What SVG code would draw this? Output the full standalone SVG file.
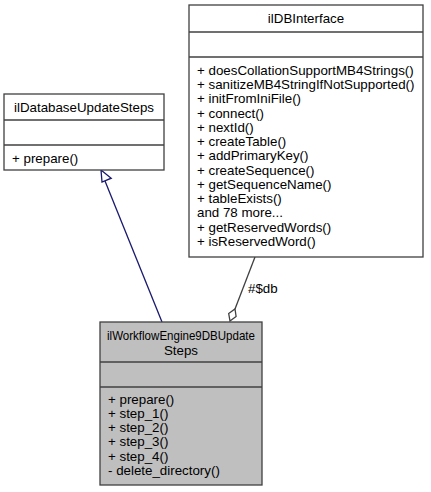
<svg xmlns="http://www.w3.org/2000/svg" width="431" height="492" viewBox="0 0 431 492">
<style>
text{font-family:"Liberation Sans",Arial,sans-serif;font-size:13.33px;fill:#000}
.c{text-anchor:middle}
.box{fill:#fff;stroke:#404040;stroke-width:1.3}
.cur{fill:#bfbfbf;stroke:#404040;stroke-width:1.3}
.sep{stroke:#404040;stroke-width:1.3}
</style>
<rect width="431" height="492" fill="#fff"/>
<g id="connectors">
<path d="M162,322 L105,181" fill="none" stroke="#191970" stroke-width="1.3"/>
<polygon points="101,170 111.2,178.2 102,182" fill="#fff" stroke="#191970" stroke-width="1.3"/>
<path d="M255,257 L235,309" fill="none" stroke="#404040" stroke-width="1.3"/>
<polygon points="230,321 236.1,316.5 235,309 228.7,313.5" fill="#fff" stroke="#404040" stroke-width="1.3"/>
<text x="248" y="293">#$db</text>
</g>
<g id="ilDBInterface">
<rect class="box" x="189" y="5" width="234" height="252"/>
<line class="sep" x1="189" y1="32" x2="423" y2="32"/>
<line class="sep" x1="189" y1="57" x2="423" y2="57"/>
<text class="c" x="306" y="23">ilDBInterface</text>
<text x="197" y="75">+ doesCollationSupportMB4Strings()</text>
<text x="197" y="89">+ sanitizeMB4StringIfNotSupported()</text>
<text x="197" y="103">+ initFromIniFile()</text>
<text x="197" y="118">+ connect()</text>
<text x="197" y="132">+ nextId()</text>
<text x="197" y="146">+ createTable()</text>
<text x="197" y="160">+ addPrimaryKey()</text>
<text x="197" y="175">+ createSequence()</text>
<text x="197" y="189">+ getSequenceName()</text>
<text x="197" y="203">+ tableExists()</text>
<text x="197" y="217">and 78 more...</text>
<text x="197" y="232">+ getReservedWords()</text>
<text x="197" y="246">+ isReservedWord()</text>
</g>
<g id="ilDatabaseUpdateSteps">
<rect class="box" x="4" y="94" width="160" height="76"/>
<line class="sep" x1="4" y1="120" x2="164" y2="120"/>
<line class="sep" x1="4" y1="145" x2="164" y2="145"/>
<text class="c" x="84" y="112">ilDatabaseUpdateSteps</text>
<text x="12" y="163">+ prepare()</text>
</g>
<g id="ilWorkflowEngine9DBUpdateSteps">
<rect class="cur" x="100" y="322" width="162" height="163"/>
<line class="sep" x1="100" y1="362" x2="262" y2="362"/>
<line class="sep" x1="100" y1="387" x2="262" y2="387"/>
<text class="c" x="181" y="340" textLength="148" lengthAdjust="spacingAndGlyphs">ilWorkflowEngine9DBUpdate</text>
<text class="c" x="181" y="355">Steps</text>
<text x="108" y="404">+ prepare()</text>
<text x="108" y="418">+ step_1()</text>
<text x="108" y="432">+ step_2()</text>
<text x="108" y="446">+ step_3()</text>
<text x="108" y="461">+ step_4()</text>
<text x="108" y="475">- delete_directory()</text>
</g>
</svg>
